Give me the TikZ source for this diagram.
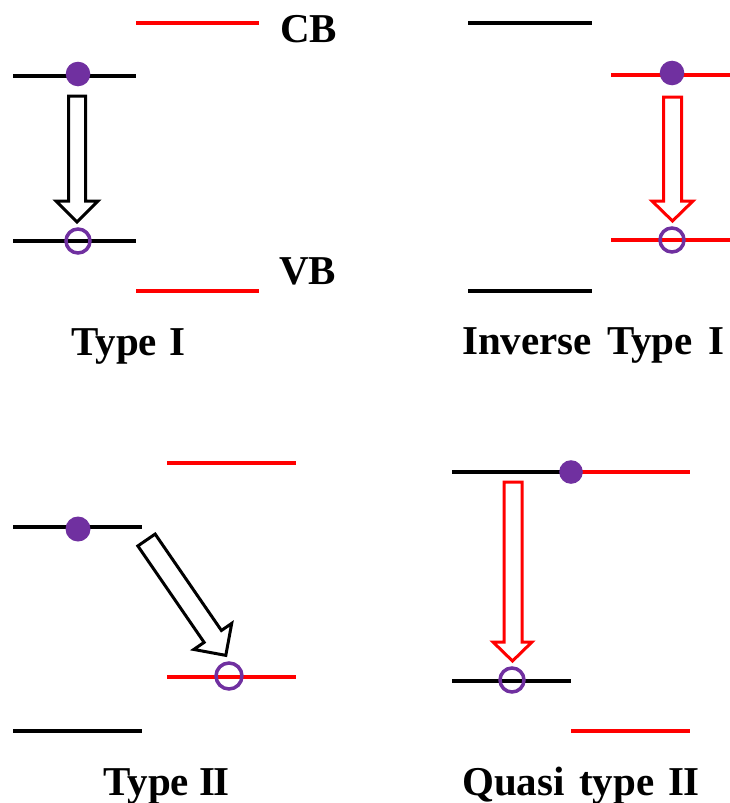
\documentclass[tikz,border=0pt]{standalone}
\usepackage{fontspec}
\setmainfont{Liberation Serif}
\definecolor{epurple}{HTML}{7030A0}
\definecolor{bandred}{HTML}{FF0000}
\begin{document}
\begin{tikzpicture}[x=1pt,y=-1pt,
  blk/.style={draw=black,line width=4.2pt},
  rd/.style={draw=bandred,line width=4.5pt},
  elec/.style={fill=epurple,draw=none},
  hole/.style={draw=epurple,line width=3.5pt,fill=none},
  barrow/.style={draw=black,line width=3pt,fill=white,line join=miter},
  rarrow/.style={draw=bandred,line width=3pt,fill=white,line join=miter},
  lbl/.style={font=\fontsize{41}{48}\selectfont\bfseries,inner sep=0pt,anchor=base west}]
\useasboundingbox (0,0) rectangle (730,803);
% ---------- Type I ----------
\draw[rd] (136,23) -- (259,23);
\draw[blk] (13,76) -- (136,76);
\draw[blk] (13,241) -- (136,241);
\draw[rd] (136,291) -- (259,291);
\fill[elec] (78,74) circle (12.3);
\draw[hole] (78,241) circle (12);
\draw[barrow] (68.5,96) -- (85.5,96) -- (85.5,201) -- (98,201) -- (77,222) -- (56,201) -- (68.5,201) -- cycle;
\node[lbl] (cb) at (280,42) {CB};
\node[lbl] (vb) at (279,284) {VB};
\node[lbl] (t1) at (71,355) {Type\hspace{0.3em}I};
% ---------- Inverse Type I ----------
\draw[blk] (468,23) -- (592,23);
\draw[rd] (611,75) -- (730,75);
\draw[rd] (611,240) -- (730,240);
\draw[blk] (468,291) -- (592,291);
\fill[elec] (672,73) circle (12.3);
\draw[hole] (672,240) circle (12);
\draw[rarrow] (663.5,97) -- (681.5,97) -- (681.5,201) -- (693,201) -- (672.5,221) -- (652,201) -- (663.5,201) -- cycle;
\node[lbl] (t2) at (462,354) {Inverse\hspace{0.37em}Type\hspace{0.37em}I};
% ---------- Type II ----------
\draw[rd] (167,463) -- (296,463);
\draw[blk] (13,527) -- (142,527);
\draw[rd] (167,677) -- (296,677);
\draw[blk] (13,731) -- (142,731);
\fill[elec] (78,529) circle (12.5);
\draw[hole] (229,676) circle (13);
\begin{scope}[shift={(146.5,540)},rotate=-55.5]
\draw[barrow] (0,-10.5) -- (117,-10.5) -- (117,-23) -- (140,0) -- (117,23) -- (117,10.5) -- (0,10.5) -- cycle;
\end{scope}
\node[lbl] (t3) at (103,795) {Type\hspace{0.25em}I\kern-1.5ptI};
% ---------- Quasi type II ----------
\draw[blk] (452,472) -- (571,472);
\draw[rd] (571,472) -- (690,472);
\draw[blk] (452,681) -- (571,681);
\draw[rd] (571,731) -- (690,731);
\fill[elec] (571,472) circle (11.8);
\draw[hole] (512,680) circle (12);
\draw[rarrow] (504,482) -- (522,482) -- (522,642) -- (532,642) -- (512.5,661) -- (493,642) -- (504,642) -- cycle;
\node[lbl] (t4) at (462,795) {Quasi\hspace{0.35em}type\hspace{0.35em}I\kern-1.5ptI};
\end{tikzpicture}
\end{document}
